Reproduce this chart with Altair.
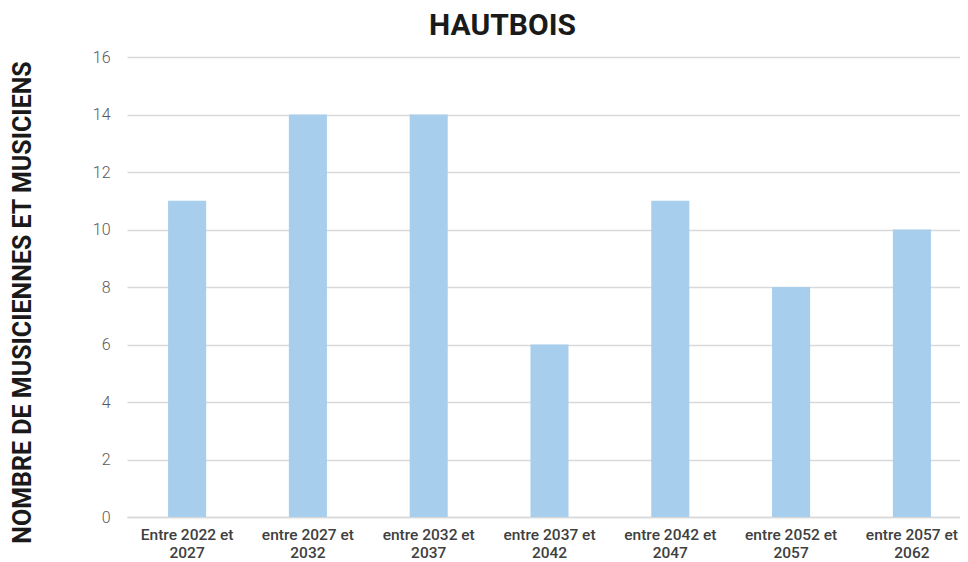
import altair as alt
import pandas as pd

categories = [
    "Entre 2022 et|2027",
    "entre 2027 et|2032",
    "entre 2032 et|2037",
    "entre 2037 et|2042",
    "entre 2042 et|2047",
    "entre 2052 et|2057",
    "entre 2057 et|2062",
]
values = [11, 14, 14, 6, 11, 8, 10]

df = pd.DataFrame({"periode": categories, "nombre": values})

chart = (
    alt.Chart(df)
    .mark_bar(color="#A7CEEC")
    .encode(
        x=alt.X(
            "periode:N",
            sort=categories,
            scale=alt.Scale(range=[0, 845], paddingInner=0.685, paddingOuter=0.34),
            axis=alt.Axis(
                title=None,
                labelAngle=0,
                labelExpr="split(datum.value, '|')",
                labelFont="Roboto",
                labelFontSize=15.5,
                labelFontWeight=500,
                labelColor="#404040",
                labelLineHeight=18,
                labelPadding=10,
                ticks=False,
                domainColor="#d9d9d9",
                domainWidth=1.5,
            ),
        ),
        y=alt.Y(
            "nombre:Q",
            scale=alt.Scale(domain=[0, 16]),
            axis=alt.Axis(
                title="NOMBRE DE MUSICIENNES ET MUSICIENS",
                values=[0, 2, 4, 6, 8, 10, 12, 14, 16],
                titleFont="Roboto",
                titleFontSize=25,
                titleFontWeight="bold",
                titleColor="#1a1a1a",
                titleAngle=-90,
                titleX=-105,
                titleY=245,
                titleAlign="center",
                titleBaseline="middle",
                labelFont="Roboto",
                labelFontSize=16,
                labelFontWeight=300,
                labelColor="#595959",
                labelPadding=17,
                ticks=False,
                domain=False,
                gridColor="#d9d9d9",
                gridWidth=1.5,
            ),
        ),
    )
    .properties(
        width=833,
        height=460,
        title=alt.TitleParams(
            "HAUTBOIS",
            font="Roboto",
            fontSize=30,
            fontWeight="bold",
            color="#1a1a1a",
            dx=-41,
            offset=8,
        ),
        autosize=alt.AutoSizeParams(type="none"),
        padding={"left": 119, "top": 49, "right": 0, "bottom": 45},
    )
    .configure_view(stroke=None)
)

chart.save("out.html", embed_options={"renderer": "svg", "actions": False})
